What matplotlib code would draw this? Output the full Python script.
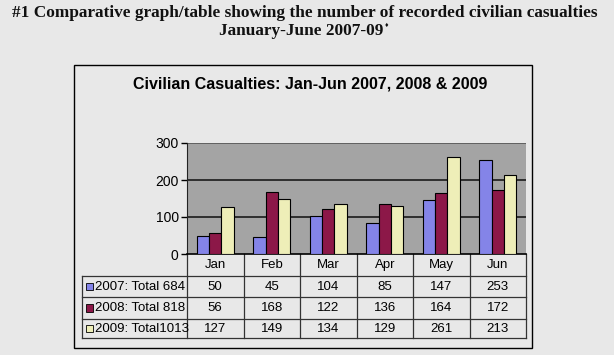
#!/usr/bin/env python3
"""Civilian casualties Jan-Jun 2007-09: grouped bars with data table below."""

import numpy as np
import matplotlib
matplotlib.use("Agg")
import matplotlib.pyplot as plt
from matplotlib.patches import Rectangle

months = ["Jan", "Feb", "Mar", "Apr", "May", "Jun"]
series_labels = ["2007: Total 684", "2008: Total 818", "2009: Total1013"]
cas_2007 = [50, 45, 104, 85, 147, 253]
cas_2008 = [56, 168, 122, 136, 164, 172]
cas_2009 = [127, 149, 134, 129, 261, 213]
yticks = [0, 100, 200, 300]

colors = ["#8484E8", "#8C1848", "#EEEEB8"]
BG = "#E8E8E8"
W, H = 614, 355

plt.rcParams["font.family"] = ["Liberation Sans", "DejaVu Sans"]


def fx(px):
    return px / W


def fy(py):
    return 1 - py / H


fig = plt.figure(figsize=(W / 100, H / 100), dpi=100, facecolor=BG)

# header text (serif, like the report)
serif = ["Liberation Serif", "DejaVu Serif"]
fig.text(fx(305), fy(13), "#1 Comparative graph/table showing the number of recorded civilian casualties",
         ha="center", va="center", fontsize=12.4, fontweight="bold", family=serif, color="#111111")
fig.text(fx(301), fy(31), "January-June 2007-09",
         ha="center", va="center", fontsize=12.4, fontweight="bold", family=serif, color="#111111")
fig.text(fx(385), fy(25), "\u2666", ha="left", va="center", fontsize=5, color="#111111")

# chart frame
fig.add_artist(Rectangle((fx(74), fy(348)), fx(532) - fx(74), fy(65) - fy(348),
                         transform=fig.transFigure, facecolor="none",
                         edgecolor="black", linewidth=1.0))
fig.text(fx(310), fy(84), "Civilian Casualties: Jan-Jun 2007, 2008 & 2009",
         ha="center", va="center", fontsize=11.5, fontweight="bold", color="black")

ax = fig.add_axes([fx(187), fy(254), fx(526) - fx(187), fy(143) - fy(254)])
ax.set_facecolor("#A4A4A4")

x = np.arange(len(months))
bw = 0.22
for i, vals in enumerate([cas_2007, cas_2008, cas_2009]):
    ax.bar(x + (i - 1) * bw, vals, width=bw, color=colors[i],
           edgecolor="black", linewidth=0.8, zorder=3)

ax.set_xlim(-0.5, len(months) - 0.5)
ax.set_ylim(0, 300)
ax.set_yticks(yticks)
ax.set_xticks([])
ax.tick_params(axis="y", length=4, width=1, labelsize=10, pad=2, colors="black")
for yv in yticks[1:]:
    ax.axhline(yv, color="#1a1a1a" if yv < 300 else "#555555", linewidth=1.2, zorder=1)
for side in ["top", "right"]:
    ax.spines[side].set_visible(False)
ax.spines["left"].set_color("#222222")
ax.spines["bottom"].set_color("black")
ax.spines["bottom"].set_linewidth(1.2)

# data table under the plot, x in data units, y in axes fraction
tr = ax.get_xaxis_transform()
ax_h = 254 - 143
row_px = [254, 276, 297, 319, 338]
row_y = [(254 - p) / ax_h for p in row_px]
label_left = -0.5 - (187 - 82) / ((526 - 187) / len(months))
line_kw = dict(transform=tr, clip_on=False, color="#333333", linewidth=0.9)

for j in range(len(months) + 1):
    ax.plot([j - 0.5, j - 0.5], [row_y[0], row_y[-1]], **line_kw)
ax.plot([label_left, label_left], [row_y[1], row_y[-1]], **line_kw)
for k in range(1, len(row_y)):
    ax.plot([label_left, len(months) - 0.5], [row_y[k], row_y[k]], **line_kw)

for j, m in enumerate(months):
    ax.text(j, (row_y[0] + row_y[1]) / 2, m, transform=tr, ha="center", va="center",
            fontsize=9.5, clip_on=False)

sq_w = 7 / ((526 - 187) / len(months))
for i, vals in enumerate([cas_2007, cas_2008, cas_2009]):
    yc = (row_y[i + 1] + row_y[i + 2]) / 2
    for j, v in enumerate(vals):
        ax.text(j, yc, str(v), transform=tr, ha="center", va="center",
                fontsize=9.5, clip_on=False)
    ax.add_patch(Rectangle((label_left + 0.07, yc - 0.032), sq_w, 0.064,
                           transform=tr, clip_on=False, facecolor=colors[i],
                           edgecolor="black", linewidth=0.6))
    ax.text(label_left + 0.07 + sq_w + 0.04, yc, series_labels[i], transform=tr,
            ha="left", va="center", fontsize=9.5, clip_on=False)

plt.savefig("out.png", dpi=100, facecolor=BG)
